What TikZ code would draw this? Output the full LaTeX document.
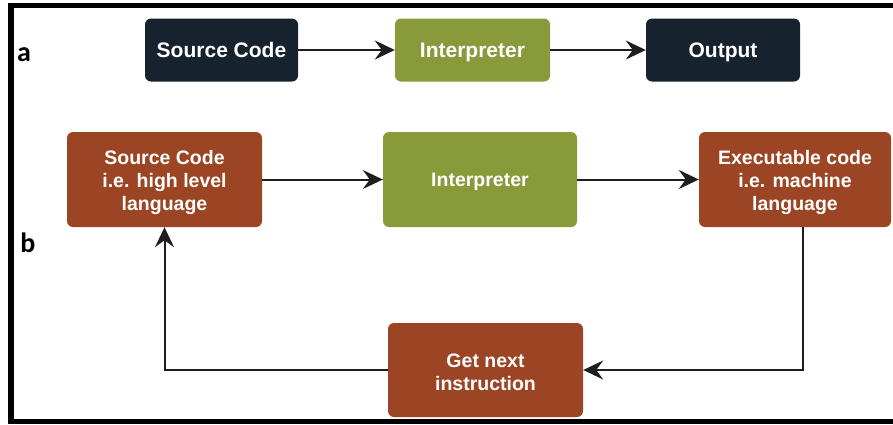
\documentclass[tikz,border=0pt]{standalone}
\usepackage{fontspec}
\setmainfont{Liberation Sans}
\newfontfamily\labelfont{Carlito}
\usetikzlibrary{arrows.meta}

\definecolor{navybox}{HTML}{17222F}
\definecolor{olivebox}{HTML}{889A3A}
\definecolor{rustbox}{HTML}{9B4525}
\definecolor{linkline}{HTML}{1E1E1E}

\tikzset{
  box/.style={rounded corners=6pt, text=white, align=center, inner sep=0pt},
  toprow/.style={box, minimum height=63pt, text height=15pt, text depth=0pt,
    font=\bfseries\fontsize{21}{25}\selectfont},
  botrow/.style={box, minimum height=95pt, font=\bfseries\fontsize{19.5}{23}\selectfont},
  % the text box hangs on its last baseline
  oneline/.style={text height=14pt, text depth=0pt},
  twolines/.style={text height=40pt, text depth=0pt},
  threelines/.style={text height=61pt, text depth=0pt},
  link/.style={draw=linkline, line width=2pt,
    -{Stealth[length=20pt,width=19pt,inset=7pt]}},
  rowlabel/.style={font=\labelfont\bfseries\fontsize{28}{28}\selectfont, text=black, inner sep=0pt}
}

\begin{document}
\begin{tikzpicture}[x=1pt,y=-1pt]
  \useasboundingbox (0,0) rectangle (893,424);
  \clip (0,0) rectangle (893,424);
  \fill[white] (0,0) rectangle (893,424);

  % frame (open on the right)
  \draw[line width=5.5pt, line join=miter] (900,5.5) -- (11,5.5) -- (11,421.5) -- (900,421.5);

  % row labels
  \node[rowlabel] (la) at (24,54.5) {a};
  \node[rowlabel] (lb) at (28,243) {b};

  % row a
  \node[toprow, fill=navybox, minimum width=153pt] (asrc) at (221.5,50) {Source Code};
  \node[toprow, fill=olivebox, minimum width=155pt] (aint) at (472.5,50) {Interpreter};
  \node[toprow, fill=navybox, minimum width=154pt] (aout) at (723,50) {Output};
  \draw[link] (asrc) -- (aint);
  \draw[link] (aint) -- (aout);

  % row b
  \node[botrow, threelines, fill=rustbox, minimum width=195pt] (bsrc) at (164.5,179.5) {Source Code\\i.e. high level\\language};
  \node[botrow, oneline, fill=olivebox, minimum width=194pt] (bint) at (480,179.5) {Interpreter};
  \node[botrow, threelines, fill=rustbox, minimum width=192pt] (bexe) at (795,179.5) {Executable code\\i.e. machine\\language};
  \node[botrow, twolines, fill=rustbox, minimum width=195pt, minimum height=94pt] (bget) at (485.5,370) {Get next\\instruction};

  \draw[link] (bsrc) -- (bint);
  \draw[link] (bint) -- (bexe);
  \draw[link, rounded corners=0pt] ([xshift=8pt]bexe.south) |- (bget.east);
  \draw[link] (bget.west) -| (bsrc.south);
\end{tikzpicture}
\end{document}
